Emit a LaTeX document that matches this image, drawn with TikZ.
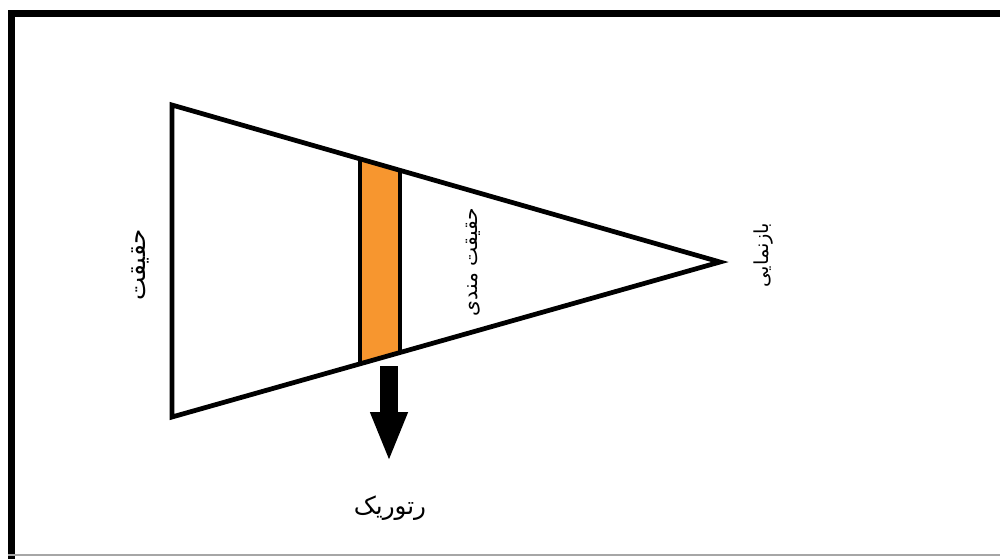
\documentclass[tikz,border=0pt]{standalone}
\usepackage{fontspec}
\newfontfamily\persianfont[Script=Arabic]{DejaVu Sans}
\TeXXeTstate=1
\usetikzlibrary{calc,arrows.meta}
\definecolor{bandorange}{HTML}{F7962F}

\begin{document}
\begin{tikzpicture}[
    x=0.02cm, y=-0.02cm,
    edge/.style ={draw, line width=0.095cm, line join=miter},
    frame/.style={line width=0.14cm},
    lbl/.style  ={font=\persianfont\fontsize{11}{13}\selectfont, inner sep=0pt},
    vlbl/.style ={lbl, rotate=90},
    big/.style  ={font=\persianfont\fontsize{14}{16}\selectfont},
]
\useasboundingbox (0,0) rectangle (1000,559);

% =========================================================
% Frame (left and top thick, bottom thin)
% =========================================================
\draw[frame] (11.5,559) -- (11.5,13.5) -- (1000,13.5);
\draw[gray!70, line width=0.04cm] (8,555) -- (1000,555);

% =========================================================
% Triangle and band
% =========================================================
\coordinate (topL)  at (172,105);
\coordinate (botL)  at (172,417);
\coordinate (apex)  at (720,262);

\coordinate (bandTL) at ($(topL)!0.343!(apex)$);
\coordinate (bandTR) at ($(topL)!0.416!(apex)$);
\coordinate (bandBL) at ($(botL)!0.343!(apex)$);
\coordinate (bandBR) at ($(botL)!0.416!(apex)$);

\fill[bandorange] (bandTL) -- (bandTR) -- (bandBR) -- (bandBL) -- cycle;
\draw[edge] (topL) -- (apex) -- (botL) -- cycle;
\draw[edge] (bandTL) -- (bandBL);
\draw[edge] (bandTR) -- (bandBR);

% =========================================================
% Labels
% =========================================================
\node[vlbl, big] (truth)  at (140,265) {\beginR حقیقت\endR};
\node[vlbl, font=\persianfont\fontsize{11.5}{13}\selectfont]
    (truthy) at (473,262) {\beginR حقیقت مندی\endR};
\node[vlbl] (repr)   at (764,255) {\beginR بازنمایی\endR};
\node[lbl, big]  (rhet)   at (390,508) {\beginR رتوریک\endR};

% Arrow: band -> rhetoric
\coordinate (arrS) at (389,366);
\coordinate (arrE) at (389,462);
\draw[line width=0.36cm, -{Triangle[length=1.0cm, width=0.68cm]}]
    (arrS) -- (arrE);

\end{tikzpicture}
\end{document}
